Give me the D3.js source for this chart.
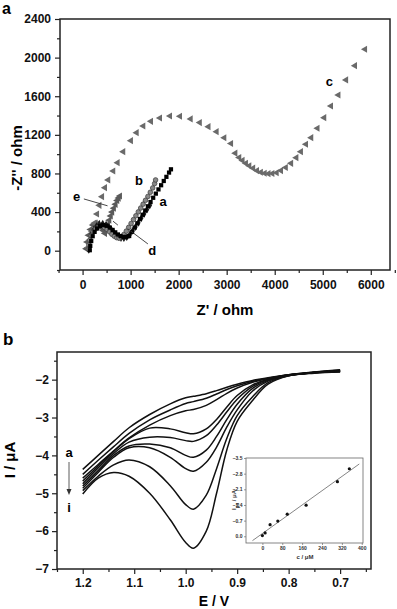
<!DOCTYPE html>
<html><head><meta charset="utf-8">
<script src="https://cdn.jsdelivr.net/npm/d3@7"></script>
<style>body{margin:0;background:#fff}text{font-family:"Liberation Sans",Arial,sans-serif;font-weight:bold}</style>
</head><body>
<script>
// ---------- Panel a : Nyquist plots ----------
const aXTicks = [0,1000,2000,3000,4000,5000,6000];
const aXMinor = [-500,500,1500,2500,3500,4500,5500,6500];
const aYTicks = [0,400,800,1200,1600,2000,2400];
const aYMinor = [-200,200,600,1000,1400,1800,2200];

const cZre = [110,150,195,245,300,350,405,465,533,638,729,846,1006,1125,1263,1423,1610,1819,2027,2250,2440,2620,2790,2950,3090,3180,3260,3330,3400,3470,3550,3630,3710,3790,3870,3950,4040,4130,4230,4340,4450,4545,4650,4760,4890,5030,5170,5325,5485,5670,5880];
const cZim = [30,110,195,285,380,470,560,653,733,826,912,1026,1140,1223,1292,1340,1375,1395,1392,1365,1327,1285,1233,1170,1110,1010,965,935,905,880,855,830,812,802,798,800,808,830,862,905,964,1026,1103,1171,1268,1378,1499,1613,1769,1917,2087];

const aZre = [150,160,180,210,250,300,360,430,500,565,625,680,735,790,850,910,970,1030,1085,1140,1195,1250,1305,1360,1415,1470,1525,1580,1635,1690,1745,1800,1840];
const aZim = [5,50,100,150,195,230,255,265,258,240,215,190,168,152,142,142,152,195,240,284,328,372,416,460,504,548,591,635,678,722,765,809,843];

const bZre = [120,130,150,180,220,270,330,395,455,510,560,610,660,710,760,810,860,910,960,1010,1060,1110,1160,1210,1260,1310,1360,1410,1460,1500,1520];
const bZim = [15,60,110,155,195,225,245,250,240,220,195,170,150,135,130,142,168,203,242,282,322,362,402,442,482,522,562,605,650,695,733];

const dZre = [130,140,160,190,235,290,350,420,490,550,600,650,700,750,800,860,920,980,1040,1100,1160,1220,1280,1340,1400];
const dZim = [10,60,120,175,220,255,275,280,268,245,218,190,163,143,132,130,140,165,205,245,290,335,380,425,470];

const eZre = [75,95,125,165,215,270,320,365,400,430,465,495,525,555,585,615,650,685,720,750,777];
const eZim = [20,90,160,220,265,285,280,260,235,210,180,225,270,315,360,400,440,480,520,545,567];

// ---------- Panel b : DPV curves a..i ----------
const bE = [1.2,1.17,1.14,1.11,1.07,1.03,1.0,0.985,0.96,0.94,0.92,0.9,0.87,0.84,0.8,0.75,0.7];
const curveA = [-4.37,-4.0,-3.63,-3.27,-2.92,-2.64,-2.48,-2.44,-2.37,-2.29,-2.2,-2.12,-2.02,-1.95,-1.87,-1.8,-1.74];
const curveB = [-4.5,-4.13,-3.77,-3.42,-3.06,-2.8,-2.63,-2.58,-2.49,-2.38,-2.26,-2.16,-2.04,-1.96,-1.87,-1.8,-1.75];
const curveC = [-4.6,-4.24,-3.88,-3.54,-3.2,-2.95,-2.82,-2.79,-2.68,-2.53,-2.36,-2.22,-2.07,-1.97,-1.88,-1.81,-1.76];
const curveD = [-4.68,-4.28,-3.9,-3.56,-3.28,-3.3,-3.4,-3.43,-3.3,-3.05,-2.72,-2.42,-2.14,-1.99,-1.88,-1.81,-1.77];
const curveE = [-4.75,-4.33,-3.95,-3.65,-3.52,-3.53,-3.61,-3.63,-3.48,-3.2,-2.85,-2.52,-2.18,-2.0,-1.88,-1.81,-1.77];
const curveF = [-4.81,-4.4,-4.0,-3.75,-3.7,-3.8,-4.0,-4.05,-3.86,-3.5,-3.05,-2.65,-2.23,-2.02,-1.89,-1.81,-1.78];
const curveG = [-4.87,-4.45,-4.05,-3.8,-3.8,-4.05,-4.35,-4.42,-4.18,-3.78,-3.25,-2.8,-2.3,-2.04,-1.89,-1.82,-1.78];
const curveH = [-4.93,-4.55,-4.25,-4.12,-4.3,-4.8,-5.3,-5.42,-5.05,-4.35,-3.55,-2.95,-2.45,-2.08,-1.9,-1.82,-1.79];
const curveI = [-5.02,-4.6,-4.45,-4.55,-5.0,-5.7,-6.3,-6.45,-6.0,-5.0,-3.85,-3.1,-2.55,-2.12,-1.9,-1.83,-1.8];
const bXTicks = [1.2,1.1,1.0,0.9,0.8,0.7];
const bXMinor = [1.25,1.15,1.05,0.95,0.85,0.75,0.65];
const bYTicks = [-2,-3,-4,-5,-6,-7];
const bYMinor = [-1.5,-2.5,-3.5,-4.5,-5.5,-6.5];

// ---------- Inset : calibration ----------
const insC = [0,11,31,62,100,176,302,350];
const insI = [-0.03,-0.15,-0.52,-0.68,-0.99,-1.39,-2.44,-3.02];
const insXTicks = [0,80,160,240,320,400];
const insYTicks = [0.0,-0.7,-1.4,-2.1,-2.8,-3.5];
const fitRange = [-40,390];

const svg = d3.select("body").append("svg").attr("width",397).attr("height",609);
const ink = "#222";

function frame(g,x0,y0,x1,y1,w){
  g.append("rect").attr("x",x0).attr("y",y0).attr("width",x1-x0).attr("height",y1-y0)
   .attr("fill","none").attr("stroke",ink).attr("stroke-width",w);
}
function axes(g,x,y,xt,xm,yt,ym,fmtX,fmtY,fs,ts,pad){
  const y0=y.range()[0], x0=x.range()[0];
  const ax=g.append("g").attr("transform",`translate(0,${y0})`).call(d3.axisBottom(x).tickValues(xt).tickSize(ts).tickPadding(pad).tickFormat(fmtX));
  const axm=g.append("g").attr("transform",`translate(0,${y0})`).call(d3.axisBottom(x).tickValues(xm).tickSize(ts*0.6).tickFormat(""));
  const ay=g.append("g").attr("transform",`translate(${x0},0)`).call(d3.axisLeft(y).tickValues(yt).tickSize(ts).tickPadding(pad-1).tickFormat(fmtY));
  const aym=g.append("g").attr("transform",`translate(${x0},0)`).call(d3.axisLeft(y).tickValues(ym).tickSize(ts*0.6).tickFormat(""));
  [ax,axm,ay,aym].forEach(a=>{a.select(".domain").remove();a.selectAll("line").attr("stroke",ink).attr("stroke-width",1.2);
    a.selectAll("text").attr("fill","#111").style("font-size",fs+"px").style("font-family","Liberation Sans, Arial, sans-serif").style("font-weight","bold");});
}

// ===== Panel a =====
const gA = svg.append("g");
const xA = d3.scaleLinear().domain([-470,6400]).range([60,390]);
const yA = d3.scaleLinear().domain([-200,2400]).range([270,19]);
axes(gA,xA,yA,aXTicks,aXMinor,aYTicks,aYMinor,d3.format("d"),d3.format("d"),12,5,5);
frame(gA,60,19,390,270,1.5);

function pts(xs,ys){return xs.map((v,i)=>[v,ys[i]]);}
const triLeft = d3.symbol().type(d3.symbolTriangle).size(22);
function drawTri(data,fill){
  gA.append("g").selectAll("path").data(data).join("path").attr("d",triLeft)
    .attr("transform",d=>`translate(${xA(d[0])},${yA(d[1])}) rotate(-90)`).attr("fill",fill);
}
drawTri(pts(eZre,eZim),"#5a5a5a");
drawTri(pts(cZre,cZim),"#6a6a6a");
gA.append("g").selectAll("path").data(pts(dZre,dZim)).join("path").attr("d",d3.symbol().type(d3.symbolDiamond).size(18))
  .attr("transform",d=>`translate(${xA(d[0])},${yA(d[1])})`).attr("fill","#1a1a1a");
gA.append("g").selectAll("circle").data(pts(bZre,bZim)).join("circle").attr("cx",d=>xA(d[0])).attr("cy",d=>yA(d[1])).attr("r",2.3)
  .attr("fill","#888").attr("stroke","#444").attr("stroke-width",0.8);
gA.append("g").selectAll("path").data(pts(aZre,aZim)).join("path").attr("d",d3.symbol().type(d3.symbolSquare).size(18))
  .attr("transform",d=>`translate(${xA(d[0])},${yA(d[1])})`).attr("fill","#000");

// labels and pointer lines (data coordinates)
const aLabels=[["a",1679,508],["b",1173,722],["c",5138,1751],["d",1450,7],["e",-125,560]];
gA.selectAll("text.lab").data(aLabels).join("text").attr("class","lab").attr("x",d=>xA(d[1])).attr("y",d=>yA(d[2]))
  .attr("text-anchor","middle").attr("dominant-baseline","central").style("font-size","13px").attr("fill","#000").text(d=>d[0]);
const ptrs=[[[27,536],[520,465]],[[1360,70],[944,225]],[[633,306],[735,265]]];
ptrs.forEach(p=>gA.append("line").attr("x1",xA(p[0][0])).attr("y1",yA(p[0][1])).attr("x2",xA(p[1][0])).attr("y2",yA(p[1][1]))
  .attr("stroke","#333").attr("stroke-width",0.9));

gA.append("text").attr("x",xA(2965)).attr("y",315).attr("text-anchor","middle").style("font-size","15px").text("Z' / ohm");
gA.append("text").attr("transform",`translate(22,${158}) rotate(-90)`).attr("text-anchor","middle").style("font-size","15px").text("-Z'' / ohm");
svg.append("text").attr("x",2).attr("y",14).style("font-size","16px").text("a");

// ===== Panel b =====
const gB = svg.append("g");
const xB = d3.scaleLinear().domain([1.25,0.64]).range([57,371]);
const yB = d3.scaleLinear().domain([-7,-1.27]).range([569,352]);
axes(gB,xB,yB,bXTicks,bXMinor,bYTicks,bYMinor,d3.format(".1f"),d3.format("d"),12,5,4);
frame(gB,57,352,371,569,1.5);
const line = d3.line().x((d,i)=>xB(bE[i])).y(d=>yB(d)).curve(d3.curveCatmullRom.alpha(0.5));
[curveA,curveB,curveC,curveD,curveE,curveF,curveG,curveH,curveI].forEach(c=>
  gB.append("path").attr("d",line(c)).attr("fill","none").attr("stroke","#111").attr("stroke-width",1.5));

gB.append("text").attr("x",69).attr("y",457).attr("text-anchor","middle").style("font-size","13px").text("a");
gB.append("text").attr("x",69).attr("y",512).attr("text-anchor","middle").style("font-size","13px").text("i");
gB.append("line").attr("x1",69).attr("y1",462).attr("x2",69).attr("y2",492).attr("stroke","#333").attr("stroke-width",0.8);
gB.append("path").attr("d","M66.5,489 L69,495 L71.5,489 Z").attr("fill","#333");

gB.append("text").attr("x",214).attr("y",606).attr("text-anchor","middle").style("font-size","14px").text("E / V");
gB.append("text").attr("transform",`translate(15,460) rotate(-90)`).attr("text-anchor","middle").style("font-size","15px").text("I / μA");
svg.append("text").attr("x",3).attr("y",345).style("font-size","17px").text("b");

// ===== Inset =====
const gI = svg.append("g");
gI.append("rect").attr("x",246).attr("y",458).attr("width",117).attr("height",85).attr("fill","#fff");
const xI = d3.scaleLinear().domain([-66,405]).range([246,363]);
const yI = d3.scaleLinear().domain([0.3,-3.5]).range([543,458]);
const axI1=gI.append("g").attr("transform","translate(0,543)").call(d3.axisBottom(xI).tickValues(insXTicks).tickSize(2).tickPadding(1.5).tickFormat(d3.format("d")));
const axI2=gI.append("g").attr("transform","translate(246,0)").call(d3.axisLeft(yI).tickValues(insYTicks).tickSize(2).tickPadding(1.5).tickFormat(d3.format(".1f")));
[axI1,axI2].forEach(a=>{a.select(".domain").remove();a.selectAll("line").attr("stroke","#555").attr("stroke-width",0.6);
  a.selectAll("text").style("font-size","5px").style("font-weight","bold").attr("fill","#333");});
gI.append("rect").attr("x",246).attr("y",458).attr("width",117).attr("height",85).attr("fill","none").attr("stroke","#666").attr("stroke-width",0.8);
// least-squares fit line from the points
const mC=d3.mean(insC), mI=d3.mean(insI);
const slope=d3.sum(insC.map((c,i)=>(c-mC)*(insI[i]-mI)))/d3.sum(insC.map(c=>(c-mC)**2));
const icpt=mI-slope*mC;
gI.append("line").attr("x1",xI(fitRange[0])).attr("y1",yI(icpt+slope*fitRange[0])).attr("x2",xI(fitRange[1])).attr("y2",yI(icpt+slope*fitRange[1]))
  .attr("stroke","#777").attr("stroke-width",0.9);
gI.append("g").selectAll("circle").data(insC).join("circle").attr("cx",d=>xI(d)).attr("cy",(d,i)=>yI(insI[i])).attr("r",1.6).attr("fill","#111");
gI.append("text").attr("x",305).attr("y",559).attr("text-anchor","middle").style("font-size","6px").attr("fill","#333").text("c / μM");
const yt=gI.append("text").attr("transform","translate(236,500) rotate(-90)").attr("text-anchor","middle").style("font-size","6px").attr("fill","#333");
yt.append("tspan").text("I");
yt.append("tspan").attr("baseline-shift","sub").style("font-size","4.5px").text("pa");
yt.append("tspan").text(" / μA");
</script>
</body></html>
